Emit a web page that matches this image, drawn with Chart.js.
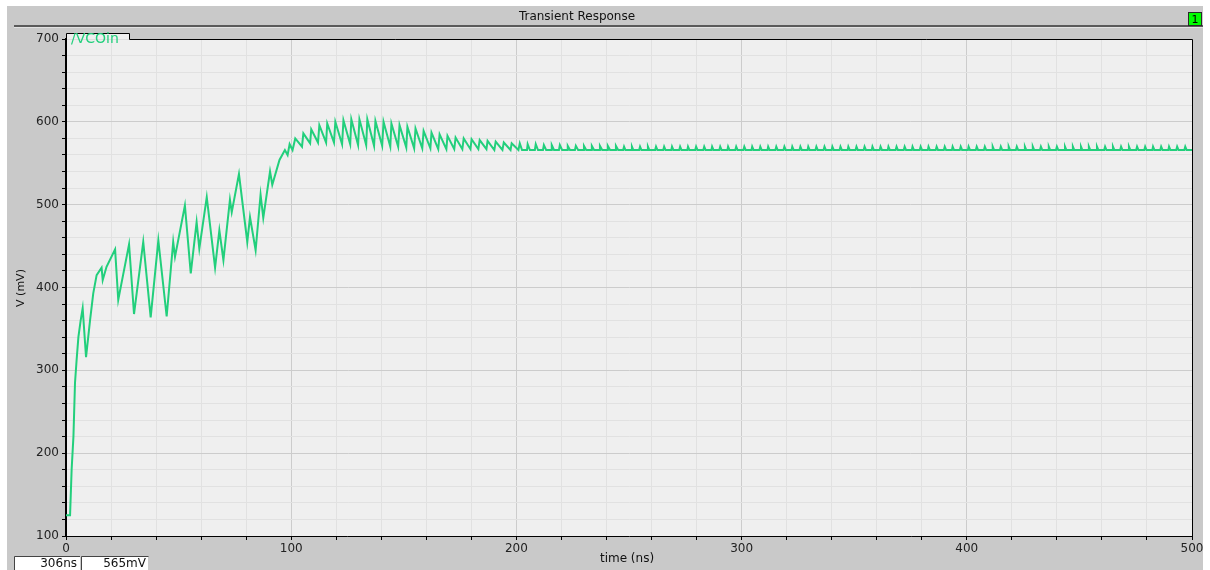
<!DOCTYPE html>
<html>
<head>
<meta charset="utf-8">
<script src="https://cdn.jsdelivr.net/npm/chart.js@4"></script>
<style>
  html, body { margin: 0; padding: 0; background: #fff; }
  canvas { display: block; }
</style>
</head>
<body>
<canvas id="chart" width="1210" height="570"></canvas>
<script>
// startup: charge-up with big sawtooth steps (0 - 100 ns)
const startupTimeNs = [0, 1.8, 2.5, 3.3, 4.0, 4.7, 5.5, 6.5, 7.4, 8.9, 10.7, 12.1, 13.6, 15.8, 16.3, 18.0, 21.8,
    23.2, 28.0, 30.2, 34.3, 37.6, 41.0, 44.7, 47.6, 48.4, 52.8, 55.4, 58.0, 59.2, 62.5, 66.2, 68.1, 69.9,
    72.8, 73.6, 76.8, 80.5, 81.7, 84.2, 86.4, 87.6, 90.6, 91.6, 94.8, 97.2, 98.4, 99.3, 100.6];
const startupMv = [125, 125, 180, 220, 285, 312, 340, 360, 375, 316, 361, 393, 415, 424, 409, 425, 446,
    385, 452, 368, 455, 364, 457, 365, 455, 437, 499, 417, 479, 447, 509, 424, 469, 433,
    506, 491, 537, 455, 485, 445, 512, 484, 540, 524, 554, 566, 560, 573, 566];

// ringing: peak / trough pairs (100 - 200 ns)
const ringTimeNs = [101.8, 104.8, 105.4, 108.4, 108.9, 111.9, 112.5, 115.5, 116.0, 119.0, 119.6, 122.6,
    123.2, 126.2, 126.7, 129.7, 130.3, 133.3, 133.8, 136.8, 137.4, 140.4, 141.0, 144.0, 144.5, 147.5,
    148.1, 151.1, 151.6, 154.6, 155.2, 158.2, 158.8, 161.8, 162.3, 165.3, 165.9, 168.9, 169.4, 172.4,
    173.0, 176.0, 176.6, 179.6, 180.1, 183.1, 183.7, 186.7, 187.2, 190.2, 190.8, 193.8, 194.4, 197.4,
    197.9, 200.9];
const ringMv = [580, 570, 586, 574, 591, 575, 596, 575, 598, 575, 600, 573,
    602, 573, 603, 572, 603, 572, 603, 571, 601, 571, 600, 570, 598, 570,
    596, 569, 594, 568, 592, 568, 589, 568, 587, 567, 585, 567, 583, 567,
    581, 567, 580, 567, 579, 567, 578, 567, 577, 566, 576, 566, 575, 566,
    574, 566];

// settled: flat line with small spikes (200 - 500 ns)
const settledTimeNs = [
    201.5, 202.5, 204.7, 205.0, 206.0, 208.2, 208.6, 209.6, 211.8, 212.2, 213.2, 215.4,
    215.7, 216.7, 218.9, 219.3, 220.3, 222.5, 222.8, 223.8, 226.0, 226.4, 227.4, 229.6,
    230.0, 231.0, 233.2, 233.5, 234.5, 236.7, 237.1, 238.1, 240.3, 240.6, 241.6, 243.8,
    244.2, 245.2, 247.4, 247.8, 248.4, 251.0, 251.3, 251.9, 254.5, 254.9, 255.5, 258.1,
    258.4, 259.0, 261.6, 262.0, 262.6, 265.2, 265.6, 266.2, 268.8, 269.1, 269.7, 272.3,
    272.7, 273.3, 275.9, 276.2, 276.8, 279.4, 279.8, 280.4, 283.0, 283.4, 284.0, 286.6,
    286.9, 287.5, 290.1, 290.5, 291.1, 293.7, 294.0, 294.6, 297.2, 297.6, 298.2, 300.8,
    301.2, 301.8, 304.4, 304.7, 305.3, 307.9, 308.3, 308.9, 311.5, 311.8, 312.4, 315.0,
    315.4, 316.0, 318.6, 319.0, 319.6, 322.2, 322.5, 323.1, 325.7, 326.1, 326.7, 329.3,
    329.6, 330.2, 332.8, 333.2, 333.8, 336.4, 336.8, 337.4, 340.0, 340.3, 340.9, 343.5,
    343.9, 344.5, 347.1, 347.4, 348.0, 350.6, 351.0, 351.6, 354.2, 354.6, 355.2, 357.8,
    358.1, 358.7, 361.3, 361.7, 362.3, 364.9, 365.2, 365.8, 368.4, 368.8, 369.4, 372.0,
    372.4, 373.0, 375.6, 375.9, 376.5, 379.1, 379.5, 380.1, 382.7, 383.0, 383.6, 386.2,
    386.6, 387.2, 389.8, 390.2, 390.8, 393.4, 393.7, 394.3, 396.9, 397.3, 397.9, 400.5,
    400.8, 401.4, 404.0, 404.4, 405.0, 407.6, 408.0, 408.6, 411.2, 411.5, 412.1, 414.7,
    415.1, 415.7, 418.3, 418.6, 419.2, 421.8, 422.2, 422.8, 425.4, 425.8, 426.4, 429.0,
    429.3, 429.9, 432.5, 432.9, 433.5, 436.1, 436.4, 437.0, 439.6, 440.0, 440.6, 443.2,
    443.6, 444.2, 446.8, 447.1, 447.7, 450.3, 450.7, 451.3, 453.9, 454.2, 454.8, 457.4,
    457.8, 458.4, 461.0, 461.4, 462.0, 464.6, 464.9, 465.5, 468.1, 468.5, 469.1, 471.7,
    472.0, 472.6, 475.2, 475.6, 476.2, 478.8, 479.2, 479.8, 482.4, 482.7, 483.3, 485.9,
    486.3, 486.9, 489.5, 489.8, 490.4, 493.0, 493.4, 494.0, 496.6, 497.0, 497.6, 500.0];
const settledMv = [
    574, 566, 566, 573, 566, 566, 573, 566, 566, 572, 566, 566,
    572, 566, 566, 572, 566, 566, 571, 566, 566, 571, 566, 566,
    571, 566, 566, 571, 566, 566, 571, 566, 566, 571, 566, 566,
    571, 566, 566, 570, 566, 566, 570, 566, 566, 570, 566, 566,
    570, 566, 566, 570, 566, 566, 570, 566, 566, 570, 566, 566,
    570, 566, 566, 570, 566, 566, 570, 566, 566, 570, 566, 566,
    570, 566, 566, 570, 566, 566, 570, 566, 566, 570, 566, 566,
    570, 566, 566, 570, 566, 566, 570, 566, 566, 570, 566, 566,
    570, 566, 566, 570, 566, 566, 570, 566, 566, 570, 566, 566,
    570, 566, 566, 570, 566, 566, 570, 566, 566, 570, 566, 566,
    570, 566, 566, 570, 566, 566, 570, 566, 566, 570, 566, 566,
    570, 566, 566, 570, 566, 566, 570, 566, 566, 570, 566, 566,
    570, 566, 566, 570, 566, 566, 570, 566, 566, 570, 566, 566,
    570, 566, 566, 570, 566, 566, 570, 566, 566, 570, 566, 566,
    570, 566, 566, 570, 566, 566, 570, 566, 566, 570, 566, 566,
    570, 566, 566, 570, 566, 566, 570, 566, 566, 570, 566, 566,
    570, 566, 566, 570, 566, 566, 570, 566, 566, 570, 566, 566,
    570, 566, 566, 570, 566, 566, 570, 566, 566, 570, 566, 566,
    570, 566, 566, 570, 566, 566, 570, 566, 566, 570, 566, 566,
    570, 566, 566, 570, 566, 566, 570, 566, 566, 570, 566, 566,
    570, 566, 566, 570, 566, 566, 570, 566, 566, 570, 566, 566];

const xTicks = [0, 100, 200, 300, 400, 500];
const yTicks = [100, 200, 300, 400, 500, 600, 700];
const cursorTime = '306ns';
const cursorValue = '565mV';

const timeNs = [...startupTimeNs, ...ringTimeNs, ...settledTimeNs];
const vcoinMv = [...startupMv, ...ringMv, ...settledMv];

const FONT = 'DejaVu Sans';
const TRACE = '#22cf7c';

const frame = {
    id: 'frame',
    beforeDraw(chart) {
        const { ctx, chartArea: a } = chart;
        ctx.save();
        ctx.fillStyle = '#fff';
        ctx.fillRect(0, 0, chart.width, chart.height);
        ctx.fillStyle = '#c9c9c9';
        ctx.fillRect(7, 6, 1196, 564);
        // title bar separator
        ctx.fillStyle = '#5a5a5a';
        ctx.fillRect(14, 25, 1189, 2);
        ctx.fillStyle = '#e2e2e2';
        ctx.fillRect(14, 27, 1189, 1);
        ctx.fillStyle = '#efefef';
        ctx.fillRect(a.left, a.top, a.right - a.left, a.bottom - a.top);
        ctx.restore();
    },
    afterDraw(chart) {
        const { ctx, chartArea: a } = chart;
        ctx.save();
        // plot border + tab
        ctx.strokeStyle = '#000';
        ctx.lineWidth = 1;
        ctx.fillStyle = '#efefef';
        ctx.fillRect(a.left + 1, 33.5, 63, 6);
        ctx.beginPath();
        ctx.moveTo(a.left + 0.5, 39.5);
        ctx.lineTo(a.left + 0.5, 33.5);
        ctx.lineTo(129.5, 33.5);
        ctx.lineTo(129.5, 39.5);
        ctx.lineTo(a.right + 0.5, 39.5);
        ctx.lineTo(a.right + 0.5, a.bottom);
        ctx.stroke();

        ctx.fillStyle = TRACE;
        ctx.font = '14px ' + FONT;
        ctx.textBaseline = 'alphabetic';
        ctx.textAlign = 'left';
        ctx.fillText('/VCOin', 71, 43);

        // title
        ctx.fillStyle = '#111';
        ctx.font = '12px ' + FONT;
        ctx.textAlign = 'center';
        ctx.textBaseline = 'middle';
        ctx.fillText('Transient Response', 577, 17);

        // subwindow marker
        ctx.fillStyle = '#00ff00';
        ctx.fillRect(1188, 12, 14, 14);
        ctx.strokeStyle = '#2a2a2a';
        ctx.strokeRect(1188.5, 12.5, 13, 13);
        ctx.fillStyle = '#000';
        ctx.font = '11px ' + FONT;
        ctx.fillText('1', 1195, 20);

        // axis titles
        ctx.fillStyle = '#111';
        ctx.font = '12px ' + FONT;
        ctx.fillText('time (ns)', 627, 559);
        ctx.font = '11px ' + FONT;
        ctx.save();
        ctx.translate(21, 288);
        ctx.rotate(-Math.PI / 2);
        ctx.fillText('V (mV)', 0, 0);
        ctx.restore();

        // cursor readout boxes
        ctx.fillStyle = '#fff';
        ctx.fillRect(14, 557, 66, 13);
        ctx.fillRect(81, 557, 67, 13);
        ctx.strokeStyle = '#444';
        ctx.beginPath();
        ctx.moveTo(14.5, 570); ctx.lineTo(14.5, 556.5); ctx.lineTo(80, 556.5);
        ctx.moveTo(81.5, 570); ctx.lineTo(81.5, 556.5); ctx.lineTo(148.5, 556.5);
        ctx.stroke();
        ctx.fillStyle = '#111';
        ctx.font = '12px ' + FONT;
        ctx.textAlign = 'right';
        ctx.fillText(cursorTime, 77, 564);
        ctx.fillText(cursorValue, 146, 564);
        ctx.restore();
    }
};

const gridColor = (c) => (c.tick && c.tick.value % 100 === 0) ? '#cccccc' : '#e1e1e1';

new Chart(document.getElementById('chart'), {
    type: 'line',
    data: {
        datasets: [{
            label: '/VCOin',
            data: timeNs.map((t, i) => ({ x: t, y: vcoinMv[i] })),
            borderColor: TRACE,
            borderWidth: 2,
            pointRadius: 0,
            tension: 0,
            fill: false
        }]
    },
    options: {
        responsive: false,
        animation: false,
        events: [],
        layout: { padding: { top: 39, right: 18, left: 0, bottom: 0 } },
        plugins: { legend: { display: false }, tooltip: { enabled: false } },
        scales: {
            x: {
                type: 'linear',
                min: 0,
                max: 500,
                afterFit: (s) => { s.height = 34; },
                ticks: {
                    stepSize: 20,
                    autoSkip: false,
                    maxRotation: 0,
                    padding: 2,
                    color: '#222',
                    font: { family: FONT, size: 12 },
                    callback: (v) => xTicks.includes(v) ? String(v) : ''
                },
                grid: { color: gridColor, tickColor: '#000', tickLength: 4, drawTicks: true },
                border: { color: '#000', width: 1 }
            },
            y: {
                min: 100,
                max: 700,
                afterFit: (s) => { s.width = 66; },
                ticks: {
                    stepSize: 20,
                    autoSkip: false,
                    padding: 3,
                    color: '#222',
                    font: { family: FONT, size: 12 },
                    callback: (v) => yTicks.includes(v) ? String(v) : ''
                },
                grid: { color: gridColor, tickColor: '#000', tickLength: 4, drawTicks: true },
                border: { color: '#000', width: 2 }
            }
        }
    },
    plugins: [frame]
});
</script>
</body>
</html>
